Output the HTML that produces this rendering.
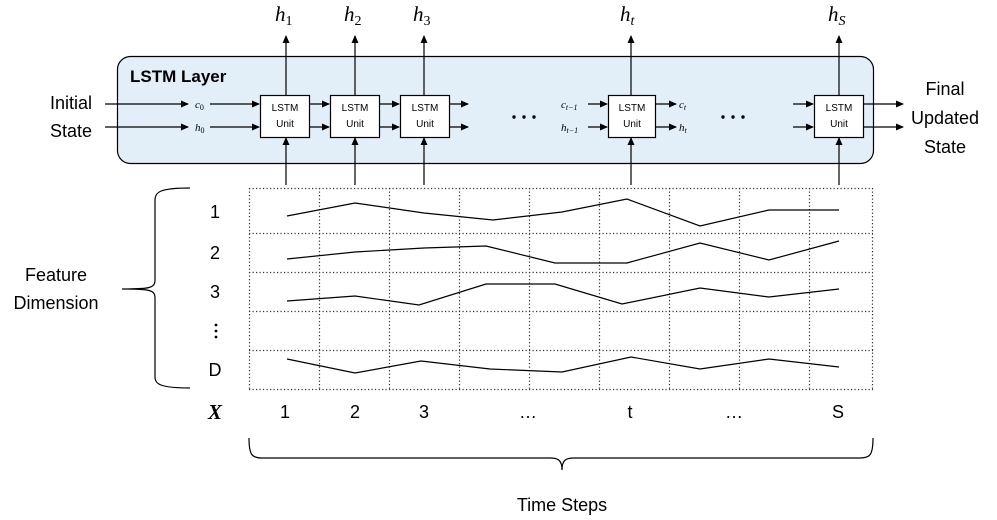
<!DOCTYPE html>
<html><head><meta charset="utf-8"><style>
html,body{margin:0;padding:0;background:#fff;}
svg{display:block;}
.s{font-family:"Liberation Sans",sans-serif;}
.m{font-family:"Liberation Serif",serif;font-style:italic;}
</style></head><body>
<svg width="997" height="520" viewBox="0 0 997 520" xmlns="http://www.w3.org/2000/svg">
<defs>
<marker id="a" markerWidth="8" markerHeight="8" refX="7" refY="4" orient="auto" markerUnits="userSpaceOnUse">
<path d="M0,0.5 L8,4 L0,7.5 Z" fill="#000"/></marker>
</defs>
<rect x="117.5" y="56.5" width="756" height="107" rx="13" fill="#e2eef8" stroke="#000" stroke-width="1.2"/>
<text x="130" y="82" class="s" font-size="17" font-weight="bold">LSTM Layer</text>

<g stroke="#000" stroke-width="1.2" fill="none" marker-end="url(#a)">
<line x1="286" y1="95" x2="286" y2="36"/>
<line x1="355" y1="95" x2="355" y2="36"/>
<line x1="424" y1="95" x2="424" y2="36"/>
<line x1="631" y1="95" x2="631" y2="36"/>
<line x1="839" y1="95" x2="839" y2="36"/>
<line x1="286" y1="185" x2="286" y2="138"/>
<line x1="355" y1="185" x2="355" y2="138"/>
<line x1="424" y1="185" x2="424" y2="138"/>
<line x1="631" y1="185" x2="631" y2="138"/>
<line x1="839" y1="185" x2="839" y2="138"/>
<line x1="105" y1="104" x2="188" y2="104"/>
<line x1="105" y1="127" x2="188" y2="127"/>
<line x1="210" y1="104" x2="259" y2="104"/>
<line x1="210" y1="127" x2="259" y2="127"/>
<line x1="310" y1="104" x2="329" y2="104"/>
<line x1="310" y1="127" x2="329" y2="127"/>
<line x1="380" y1="104" x2="399" y2="104"/>
<line x1="380" y1="127" x2="399" y2="127"/>
<line x1="450" y1="104" x2="468" y2="104"/>
<line x1="450" y1="127" x2="468" y2="127"/>
<line x1="588" y1="104" x2="607" y2="104"/>
<line x1="588" y1="127" x2="607" y2="127"/>
<line x1="656" y1="104" x2="676" y2="104"/>
<line x1="656" y1="127" x2="676" y2="127"/>
<line x1="793" y1="104" x2="813" y2="104"/>
<line x1="793" y1="127" x2="813" y2="127"/>
<line x1="864" y1="104" x2="903" y2="104"/>
<line x1="864" y1="127" x2="903" y2="127"/>
</g>

<g fill="#fff" stroke="#000" stroke-width="1.2">
<rect x="260.5" y="95.5" width="49" height="42"/>
<rect x="330.5" y="95.5" width="49" height="42"/>
<rect x="400.5" y="95.5" width="49" height="42"/>
<rect x="608.5" y="95.5" width="47" height="42"/>
<rect x="814.5" y="95.5" width="49" height="42"/>
</g>
<g class="s" font-size="10" text-anchor="middle">
<text x="285" y="111">LSTM</text><text x="285" y="127">Unit</text>
<text x="355" y="111">LSTM</text><text x="355" y="127">Unit</text>
<text x="425" y="111">LSTM</text><text x="425" y="127">Unit</text>
<text x="632" y="111">LSTM</text><text x="632" y="127">Unit</text>
<text x="839" y="111">LSTM</text><text x="839" y="127">Unit</text>
</g>
<g class="m" font-size="11">
<text x="195" y="108">c<tspan font-size="8" dy="2" font-style="normal">0</tspan></text>
<text x="195" y="131">h<tspan font-size="8" dy="2" font-style="normal">0</tspan></text>
<text x="561" y="108">c<tspan font-size="8" dy="2">t−1</tspan></text>
<text x="561" y="131">h<tspan font-size="8" dy="2">t−1</tspan></text>
<text x="679" y="108">c<tspan font-size="8" dy="2">t</tspan></text>
<text x="679" y="131">h<tspan font-size="8" dy="2">t</tspan></text>
</g>
<g fill="#000"><circle cx="514" cy="117" r="1.7"/><circle cx="524" cy="117" r="1.7"/><circle cx="534" cy="117" r="1.7"/><circle cx="723" cy="117" r="1.7"/><circle cx="733" cy="117" r="1.7"/><circle cx="743" cy="117" r="1.7"/></g>

<g class="m" font-size="21">
<text x="275" y="21">h<tspan font-size="14" font-style="normal" dy="4">1</tspan></text>
<text x="344" y="21">h<tspan font-size="14" font-style="normal" dy="4">2</tspan></text>
<text x="413" y="21">h<tspan font-size="14" font-style="normal" dy="4">3</tspan></text>
<text x="620" y="21">h<tspan font-size="14" dy="4">t</tspan></text>
<text x="828" y="21">h<tspan font-size="14" dy="4">S</tspan></text>
</g>

<g class="s" font-size="18" text-anchor="middle">
<text x="71" y="109">Initial</text><text x="71" y="137">State</text>
<text x="945" y="95">Final</text><text x="945" y="124">Updated</text><text x="945" y="153">State</text>
<text x="56" y="281">Feature</text><text x="56" y="309">Dimension</text>
<text x="215" y="218">1</text><text x="215" y="259">2</text><text x="215" y="298">3</text>
<text x="215" y="376">D</text>
<text x="562" y="511">Time Steps</text>
<text x="285" y="418">1</text><text x="355" y="418">2</text><text x="424" y="418">3</text>
<text x="528" y="418">…</text><text x="630" y="418">t</text><text x="734" y="418">…</text><text x="838" y="418">S</text>
</g>
<g fill="#000"><circle cx="216" cy="325" r="1.4"/><circle cx="216" cy="331" r="1.4"/><circle cx="216" cy="337" r="1.4"/></g>
<text x="215" y="419" font-family="Liberation Serif,serif" font-style="italic" font-weight="bold" font-size="21" text-anchor="middle">X</text>

<g stroke="#333" stroke-width="1.2" stroke-dasharray="1.2 2.3" fill="none">
<line x1="249" y1="188.5" x2="873" y2="188.5"/>
<line x1="249" y1="233.5" x2="873" y2="233.5"/>
<line x1="249" y1="272.5" x2="873" y2="272.5"/>
<line x1="249" y1="311.5" x2="873" y2="311.5"/>
<line x1="249" y1="350.5" x2="873" y2="350.5"/>
<line x1="249" y1="389.5" x2="873" y2="389.5"/>
<line x1="249.5" y1="188" x2="249.5" y2="390"/>
<line x1="319.5" y1="188" x2="319.5" y2="390"/>
<line x1="389.5" y1="188" x2="389.5" y2="390"/>
<line x1="459.5" y1="188" x2="459.5" y2="390"/>
<line x1="529.5" y1="188" x2="529.5" y2="390"/>
<line x1="599.5" y1="188" x2="599.5" y2="390"/>
<line x1="669.5" y1="188" x2="669.5" y2="390"/>
<line x1="739.5" y1="188" x2="739.5" y2="390"/>
<line x1="809.5" y1="188" x2="809.5" y2="390"/>
<line x1="872.5" y1="188" x2="872.5" y2="390"/>
</g>
<g stroke="#000" stroke-width="1.2" fill="none">
<polyline points="287,216 355,203 424,213 493,220 562,212 627,199 700,226 769,210 839,210"/>
<polyline points="287,259 355,252 424,248 486,246 555,263 627,263 700,243 769,260 839,241"/>
<polyline points="287,301 355,296 419,305 486,284 555,284 622,304 700,288 769,297 839,289"/>
<polyline points="287,359 355,373 421,361 490,369 562,372 631,357 700,369 769,359 839,367"/>
<path d="M190,188 C160,188 155,192 155,200 L155,280 C155,288 150,289 122,289 C150,289 155,290 155,298 L155,377 C155,384 160,388 190,388"/>
<path d="M249,438 C249,455 252,458 262,458 L550,458 C558,458 562,460 562,470 C562,460 566,458 574,458 L860,458 C870,458 873,455 873,438"/>
</g>
</svg>
</body></html>
